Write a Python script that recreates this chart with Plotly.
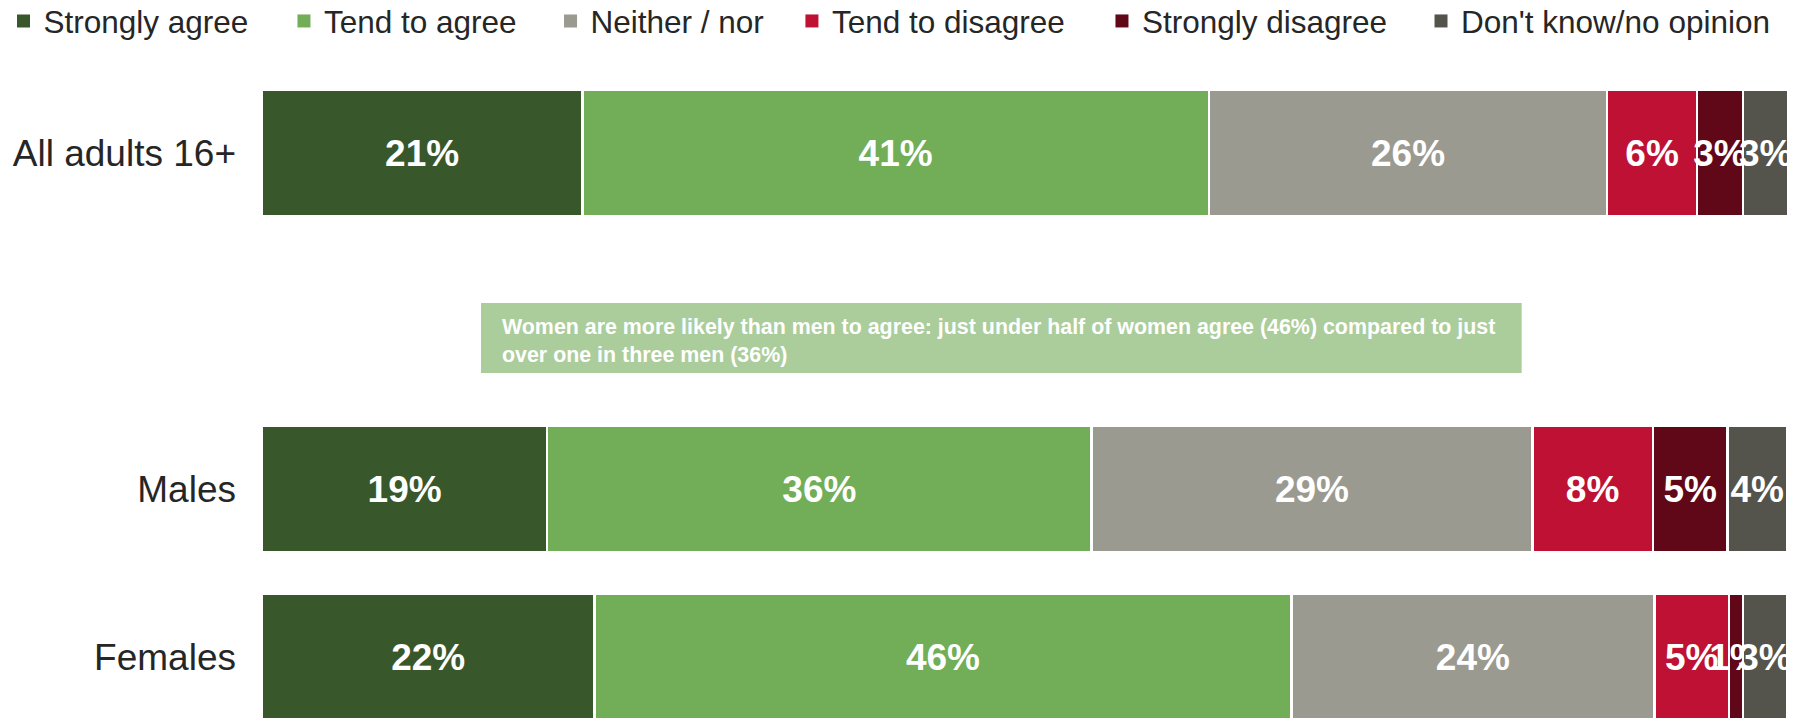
import plotly.graph_objects as go

categories = ["All adults 16+", " ", "Males", "Females"]
series_names = ["Strongly agree", "Tend to agree", "Neither / nor",
                "Tend to disagree", "Strongly disagree", "Don't know/no opinion"]
strongly_agree = [21.0, None, 18.7, 21.8]
tend_agree = [41.1, None, 35.7, 45.7]
neither_nor = [26.1, None, 28.9, 23.8]
tend_disagree = [5.9, None, 7.9, 4.9]
strongly_disagree = [3.0, None, 4.9, 0.9]
dont_know = [3.0, None, 3.9, 2.9]
annotation_text = ("Women are more likely than men to agree: just under half of women agree (46%) compared to just"
                   "<br>over one in three men (36%)")

series_values = [strongly_agree, tend_agree, neither_nor, tend_disagree, strongly_disagree, dont_know]
colors = ["#38572A", "#72AD57", "#9A9A90", "#BE1134", "#600818", "#54544C"]
legend_x = [-0.1695, 0.0144, 0.1892, 0.3475, 0.5508, 0.7600]

FONT = "Liberation Sans, Arial, sans-serif"

fig = go.Figure()
legend_ids = ["legend"] + [f"legend{i}" for i in range(2, 7)]
for name, vals, col, lid in zip(series_names, series_values, colors, legend_ids):
    fig.add_trace(go.Bar(
        name=name, y=categories, x=vals, orientation="h", showlegend=False,
        marker=dict(color=col, line=dict(color="white", width=2.5)),
        texttemplate="%{x:.0f}%", textposition="inside", insidetextanchor="middle",
        constraintext="none", textangle=0,
        textfont=dict(family=FONT, size=37, color="white", weight="bold"),
        cliponaxis=True,
    ))
# legend keys (square swatches like the original)
for name, col, lid in zip(series_names, colors, legend_ids):
    fig.add_trace(go.Scatter(
        name=name, x=[None], y=[None], mode="markers", legend=lid, showlegend=True,
        marker=dict(symbol="square", size=13, color=col),
        hoverinfo="skip",
    ))

fig.add_shape(type="rect", xref="x", yref="y", x0=14.36, x1=82.6, y0=0.893, y1=1.31,
              fillcolor="#ABCD9B", line=dict(width=0), layer="above")
fig.add_annotation(xref="x", yref="y", x=15.6, y=1.12, xanchor="left", yanchor="middle",
                   text=annotation_text, showarrow=False, align="left",
                   font=dict(family=FONT, size=21.4, color="white", weight="bold"))

legend_layouts = {}
for lid, lx in zip(legend_ids, legend_x):
    legend_layouts[lid] = dict(orientation="h", x=lx, xanchor="left", y=1.0586, yanchor="middle",
                               font=dict(family=FONT, size=31.5, color="#262626"),
                               itemwidth=30, bgcolor="rgba(0,0,0,0)")

fig.update_layout(
    width=1805, height=718,
    barmode="stack", bargap=0.25,
    plot_bgcolor="white", paper_bgcolor="white",
    margin=dict(l=254, r=26, t=52, b=0, autoexpand=False),
    font=dict(family=FONT, color="#262626"),
    showlegend=True,
    xaxis=dict(range=[0, 100], visible=False, fixedrange=True),
    yaxis=dict(type="category", categoryorder="array", categoryarray=categories,
               range=[3.4107, -0.5536], showgrid=False, zeroline=False, showline=False,
               ticks="", ticklabelstandoff=25,
               tickfont=dict(family=FONT, size=37, color="#262626")),
    **legend_layouts,
)

fig.write_html("out.html")
